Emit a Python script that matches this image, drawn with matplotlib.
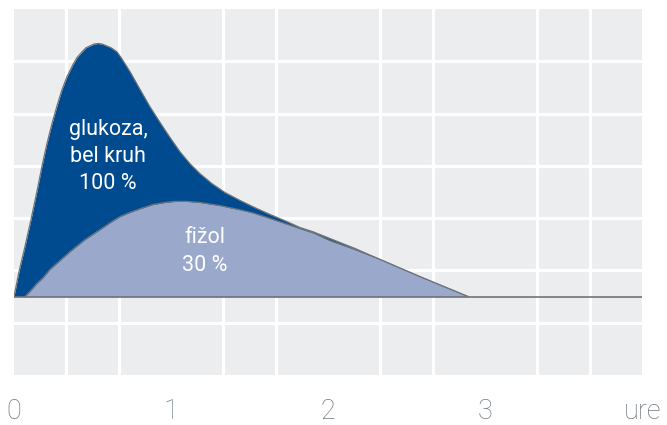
import numpy as np
import matplotlib
matplotlib.use('Agg')
import matplotlib.pyplot as plt

# time in hours, blood glucose response (relative units, baseline = 0)
glukoza_t = [0.000, 0.032, 0.070, 0.108, 0.146, 0.178, 0.210, 0.242, 0.274,
             0.306, 0.338, 0.376, 0.401, 0.433, 0.459, 0.510, 0.535, 0.561,
             0.618, 0.656, 0.682, 0.739, 0.803, 0.866, 0.930, 0.994, 1.057,
             1.121, 1.185, 1.261, 1.344, 1.439, 1.535, 1.631, 1.726, 1.822,
             1.904, 2.013, 2.172, 2.331, 2.586, 2.892]
glukoza_y = [0.00, 0.48, 0.96, 1.47, 2.01, 2.49, 2.93, 3.31, 3.65,
             3.96, 4.21, 4.44, 4.57, 4.68, 4.76, 4.83, 4.84, 4.83,
             4.76, 4.68, 4.57, 4.30, 3.96, 3.63, 3.33, 3.04, 2.77,
             2.54, 2.35, 2.16, 1.99, 1.84, 1.70, 1.57, 1.45, 1.32,
             1.24, 1.11, 0.92, 0.71, 0.38, 0.00]

fizol_t = [0.070, 0.102, 0.146, 0.185, 0.229, 0.293, 0.357, 0.452, 0.548,
           0.611, 0.675, 0.739, 0.803, 0.885, 0.962, 1.025, 1.102, 1.185,
           1.312, 1.439, 1.522, 1.605, 1.694, 1.822, 1.904, 2.013, 2.172,
           2.331, 2.586, 2.892]
fizol_y = [0.00, 0.10, 0.25, 0.36, 0.52, 0.69, 0.86, 1.09, 1.28,
           1.41, 1.53, 1.61, 1.68, 1.76, 1.80, 1.82, 1.82, 1.80,
           1.74, 1.66, 1.60, 1.52, 1.43, 1.30, 1.22, 1.07, 0.90,
           0.71, 0.38, 0.00]

tick_pos = [0, 1, 2, 3, 4]
tick_labels = ['0', '1', '2', '3', 'ure']

plt.rcParams['font.family'] = ['Roboto', 'DejaVu Sans']

fig = plt.figure(figsize=(6.67, 4.25), dpi=100)
ax = fig.add_axes([14 / 667, 50 / 425, 628 / 667, 366 / 425])
ax.set_facecolor('#ECEDEF')
ax.set_xlim(0, 4)
ax.set_ylim(-1.5, 5.5)

# white grid on minor ticks
ax.set_xticks(np.arange(1, 12) / 3, minor=True)
ax.set_yticks(np.arange(-0.5, 5.0, 1.0), minor=True)
ax.set_yticks([])
ax.grid(which='minor', color='white', linewidth=2.3)
ax.set_axisbelow(True)
for s in ax.spines.values():
    s.set_visible(False)

ax.set_xticks(tick_pos)
ax.set_xticklabels(tick_labels, fontweight='light')
ax.tick_params(which='both', length=0)
ax.tick_params(axis='x', pad=16.5, labelsize=19.5, labelcolor='#6F7982')

edge = '#6E747A'
ax.fill_between(glukoza_t, glukoza_y, 0, color='#004A8F', linewidth=0, zorder=3)
ax.plot(glukoza_t, glukoza_y, color=edge, linewidth=0.9, zorder=3)
ax.fill_between(fizol_t, fizol_y, 0, color='#9AA8CC', linewidth=0, zorder=4)
ax.plot(fizol_t, fizol_y, color=edge, linewidth=0.9, zorder=4)
ax.axhline(0, color=edge, linewidth=1.2, zorder=5)

ax.text(0.60, 2.68, 'glukoza,\nbel kruh\n100 %', color='white', fontsize=15.5,
        ha='center', va='center', linespacing=1.4, zorder=6)
ax.text(1.217, 0.86, 'fižol\n30 %', color='white', fontsize=15.5,
        ha='center', va='center', linespacing=1.4, zorder=6)

fig.savefig('out.png', dpi=100)
